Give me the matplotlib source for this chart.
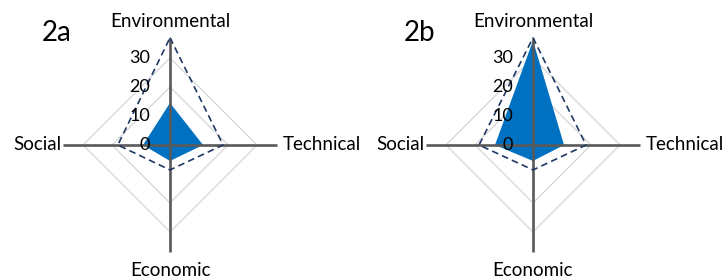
import numpy as np
import matplotlib
matplotlib.use("Agg")
import matplotlib.pyplot as plt

plt.rcParams["font.family"] = ["Lato", "DejaVu Sans"]

# axes order: top, right, bottom, left
CATEGORIES = ["Environmental", "Technical", "Economic", "Social"]
PANELS = ["2a", "2b"]
ACTUAL = {
    "2a": [14.5, 11.4, 5.5, 9.3],
    "2b": [36.0, 10.7, 5.5, 13.1],
}
TARGET = {
    "2a": [37.0, 18.3, 8.6, 18.0],
    "2b": [37.0, 18.3, 8.6, 18.6],
}
TICKS = [0, 10, 20, 30]
GRID = [20, 30]
R_MAX = 37.0

FILL_C  = "#0070C0"
DASH_C  = "#1F3864"
SPOKE_C = "#595959"
GRID_C  = "#D9D9D9"

W, H = 723, 280
SCALE = 2.9          # px per unit
CENTERS = [(170, 145), (533, 145)]   # px, from top-left
HALF = 135           # half size of each axes in px


def to_xy(vals):
    ang = np.pi / 2 - np.arange(len(vals)) * np.pi / 2
    v = np.asarray(vals, dtype=float)
    x = v * np.cos(ang)
    y = v * np.sin(ang)
    return np.append(x, x[0]), np.append(y, y[0])


def main():
    fig = plt.figure(figsize=(W / 100, H / 100), dpi=100)
    lim = HALF / SCALE
    for name, (cx, cy) in zip(PANELS, CENTERS):
        ax = fig.add_axes([(cx - HALF) / W, (H - cy - HALF) / H, 2 * HALF / W, 2 * HALF / H])
        ax.set_xlim(-lim, lim)
        ax.set_ylim(-lim, lim)
        ax.axis("off")

        # gridlines
        for g in GRID:
            gx, gy = to_xy([g] * 4)
            ax.plot(gx, gy, color=GRID_C, lw=1.0, zorder=1)

        # filled series
        fx, fy = to_xy(ACTUAL[name])
        ax.fill(fx, fy, color=FILL_C, lw=0, zorder=2)

        # spokes
        sx, sy = to_xy([R_MAX] * 4)
        for i in range(4):
            ax.plot([0, sx[i]], [0, sy[i]], color=SPOKE_C, lw=1.9,
                    solid_capstyle="butt", zorder=3)

        # dashed series
        dx, dy = to_xy(TARGET[name])
        ax.plot(dx, dy, color=DASH_C, lw=1.2, ls=(0, (4, 2.5)), zorder=4)

        # tick labels
        for t in TICKS:
            ax.text(-6.8, t, str(t), ha="right", va="center", fontsize=13, zorder=5)

        # category labels
        ax.text(0, 42.6, CATEGORIES[0], ha="center", va="center", fontsize=13.5)
        ax.text(R_MAX + 2.0, 0, CATEGORIES[1], ha="left", va="center", fontsize=13.5)
        ax.text(0, -43.2, CATEGORIES[2], ha="center", va="center", fontsize=13.5)
        ax.text(-R_MAX - 0.3, 0, CATEGORIES[3], ha="right", va="center", fontsize=13.5)

        ax.text(-39, 38.5, name, ha="center", va="center", fontsize=20)

    fig.savefig("out.png", dpi=100)


if __name__ == "__main__":
    main()
